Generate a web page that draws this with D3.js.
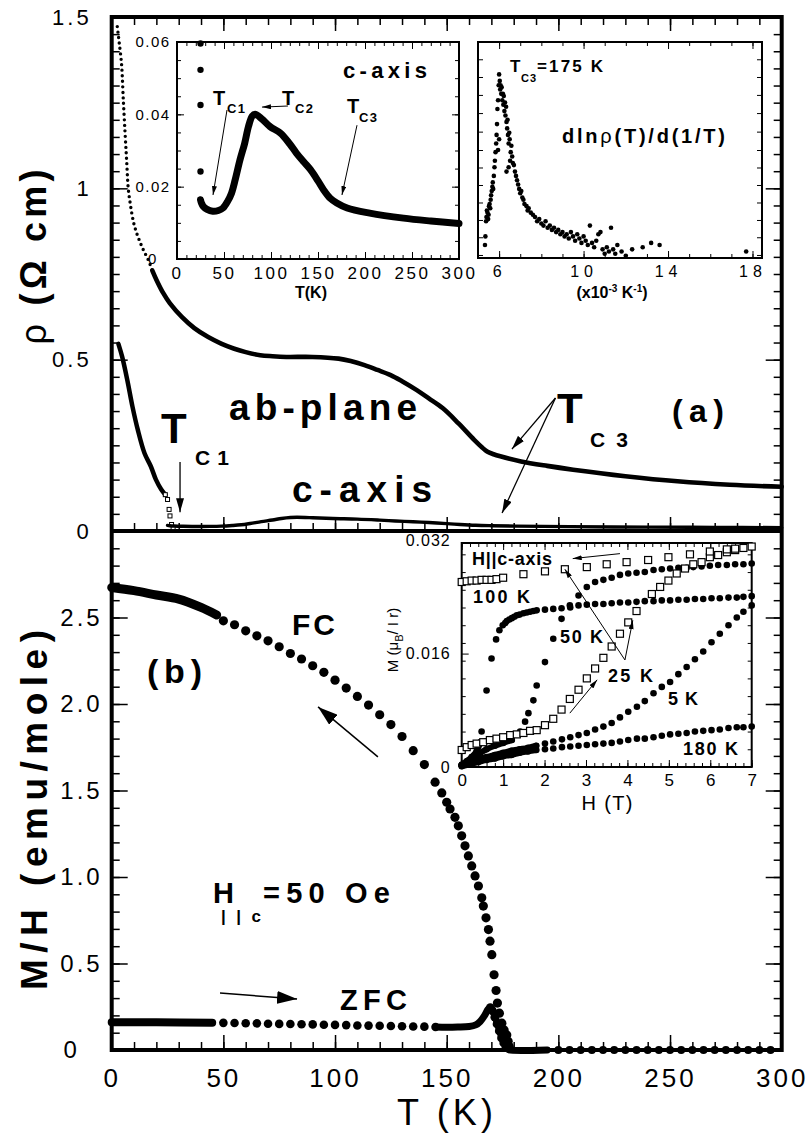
<!DOCTYPE html>
<html>
<head>
<meta charset="utf-8">
<script src="https://cdn.jsdelivr.net/npm/d3@7"></script>
<style>
body { margin: 0; background: #fff; }
svg text { font-family: "Liberation Sans", Arimo, Helvetica, Arial, sans-serif; fill: #000; }
</style>
</head>
<body>
<script>
var W = 810
var H = 1140

// ---------- panel (a): resistivity (T in K, rho in Ohm cm)
var abPlane = [[2.5,1.472],[3.0,1.445],[3.4,1.423],[4.0,1.39],[4.5,1.355],[5.2,1.258],[6.0,1.16],[6.7,1.08],[7.4,1.0],[8.2,0.96],[9.0,0.927],[10,0.895],[11.2,0.869],[12.7,0.843],[14.2,0.82],[16.4,0.791],[18.2,0.76],[20.1,0.732],[23.1,0.694],[26,0.665],[31.5,0.624],[37,0.592],[43.2,0.566],[49,0.547],[54.9,0.532],[60,0.522],[66.5,0.513],[72,0.51],[78.2,0.508],[89.9,0.508],[101.6,0.503],[107,0.496],[113.2,0.484],[119,0.47],[124.9,0.455],[130,0.437],[136.6,0.411],[142,0.387],[148.3,0.358],[155.3,0.314],[162.3,0.266],[166,0.243],[168.1,0.232],[171,0.224],[174,0.218],[183.3,0.203],[195,0.19],[206.6,0.179],[230,0.16],[253.3,0.145],[276.7,0.135],[300,0.129]]
var cAxisLow = [[3,0.546],[4.7,0.508],[7,0.44],[9.3,0.363],[11.7,0.295],[14.7,0.227],[17.5,0.189],[19.8,0.15],[22.2,0.121],[24,0.106],[25,0.092],[25.7,0.063],[26.1,0.044],[26.8,0.019],[27.5,0.01]]
var cAxis = [[25,0.0164],[26,0.0155],[28,0.0145],[32,0.0137],[38,0.0132],[44,0.0134],[49,0.0141],[54,0.016],[58,0.0182],[62,0.022],[67,0.0274],[72,0.032],[76,0.0366],[80,0.0395],[83,0.040],[90,0.0388],[99,0.0366],[110,0.0348],[120,0.0318],[127,0.0293],[135,0.0268],[142,0.0247],[150,0.0216],[156,0.0191],[163,0.0168],[170,0.0155],[181,0.0141],[205,0.0127],[241,0.0113],[270,0.0105],[300,0.0098]]
var cAxisEarly = [[25,0.0596],[25,0.0523],[25,0.0426],[25,0.0242]]

// inset: dln(rho)/d(1/T) against 1/T (10^-3 K^-1), arbitrary units
var dlnRho = [[5.33,0.06],[5.35,0.10],[5.38,0.17],[5.40,0.19],[5.42,0.22],[5.45,0.21],[5.48,0.18],[5.50,0.20],[5.52,0.24],[5.55,0.25],[5.58,0.23],[5.60,0.27],[5.62,0.29],[5.65,0.31],[5.68,0.33],[5.70,0.35],[5.72,0.32],[5.75,0.38],[5.78,0.42],[5.80,0.45],[5.83,0.49],[5.86,0.53],[5.88,0.57],[5.90,0.62],[5.92,0.69],[5.95,0.73],[5.98,0.80],[6.0,0.85],[6.03,0.82],[6.05,0.78],[6.07,0.80],[6.10,0.76],[6.12,0.79],[6.15,0.73],[6.18,0.76],[6.20,0.71],[6.22,0.75],[6.25,0.68],[6.28,0.72],[6.30,0.66],[6.33,0.70],[6.35,0.63],[6.38,0.60],[6.40,0.64],[6.42,0.57],[6.45,0.53],[6.48,0.58],[6.50,0.55],[6.55,0.49],[6.58,0.52],[6.62,0.47],[6.65,0.44],[6.70,0.43],[6.75,0.40],[6.80,0.38],[6.85,0.36],[6.90,0.34],[6.95,0.32],[7.0,0.30],[7.05,0.31],[7.1,0.28],[7.15,0.27],[7.2,0.25],[7.3,0.24],[7.35,0.22],[7.4,0.23],[7.5,0.21],[7.6,0.20],[7.7,0.19],[7.8,0.17],[7.9,0.18],[8.0,0.16],[8.1,0.15],[8.2,0.17],[8.3,0.14],[8.4,0.15],[8.5,0.13],[8.6,0.14],[8.7,0.12],[8.8,0.13],[8.9,0.11],[9.0,0.12],[9.1,0.10],[9.2,0.11],[9.3,0.09],[9.4,0.12],[9.5,0.10],[9.6,0.08],[9.7,0.11],[9.8,0.09],[9.9,0.07],[10.0,0.10],[10.1,0.08],[10.2,0.06],[10.3,0.15],[10.4,0.07],[10.5,0.05],[10.6,0.08],[10.7,0.11],[10.8,0.12],[10.9,0.04],[11.0,0.02],[11.1,0.05],[11.2,0.03],[11.3,0.14],[11.4,0.04],[11.5,0.02],[11.6,0.06],[11.8,0.03],[12.0,0.01],[12.3,0.04],[12.8,0.05],[13.2,0.07],[13.6,0.06],[17.7,0.03],[6.35,0.40],[6.45,0.42],[6.0,0.55],[5.95,0.50],[6.52,0.45]]

// ---------- panel (b): M/H (emu/mole) against T
var fcLine = [[0,2.673],[10,2.655],[20,2.63],[30,2.606],[40,2.558],[47,2.515]]
var fcDots = [[50,2.481],[55,2.458],[60,2.423],[65,2.394],[70,2.365],[75,2.331],[80,2.292],[85,2.26],[90,2.221],[95,2.183],[100,2.138],[105,2.092],[110,2.044],[115,1.994],[120,1.938],[125,1.881],[130,1.812],[135,1.73],[140,1.65],[144.8,1.548],[147.8,1.486],[150,1.432],[151.5,1.393],[153.7,1.345],[155.2,1.296],[156.7,1.238],[158.2,1.18],[159.7,1.122],[161.2,1.064],[162.7,1.006],[164.2,0.948],[165.7,0.88],[166.4,0.832],[167.6,0.764],[168.7,0.696],[169.4,0.629],[170.2,0.551],[171.2,0.435],[172.1,0.344],[172.7,0.271],[173.6,0.213],[174.7,0.155],[175.7,0.116],[176.9,0.087],[177.5,0.05],[178,0.02]]
var zfcLine = [[0,0.16],[20,0.16],[45,0.158]]
var zfcDots = [[50,0.157],[55,0.156],[60,0.155],[65,0.154],[70,0.152],[75,0.151],[80,0.15],[85,0.149],[90,0.148],[95,0.146],[100,0.145],[105,0.144],[110,0.142],[115,0.141],[120,0.14],[125,0.139],[130,0.137],[135,0.136],[140,0.135],[145,0.133]]
var zfcPeak = [[145,0.133],[150,0.132],[155,0.133],[160,0.136],[163,0.145],[165,0.165],[167,0.2],[168.5,0.235],[169.5,0.245],[170.5,0.235],[171.5,0.2],[172.5,0.16],[173.5,0.12],[174.5,0.08],[175.5,0.045],[176.5,0.02],[177.5,0.004],[178,0],[195,0]]
var zfcPeakDots = [[169.5,0.245],[170.5,0.225],[171.5,0.19],[172.5,0.15],[173.5,0.11],[174.5,0.07],[175.5,0.04],[176.5,0.015]]
var zfcZero = [[200,0],[205,0],[210,0],[215,0],[220,0],[225,0],[230,0],[235,0],[240,0],[245,0],[250,0],[255,0],[260,0],[265,0],[270,0],[275,0],[280,0],[285,0],[290,0],[295,0]]

// inset: M (muB/Ir) against H (T)
var m25down = [[0,0.0261],[0.12,0.0262],[0.24,0.0263],[0.36,0.0263],[0.48,0.0264],[0.6,0.0264],[0.72,0.0264],[0.84,0.0265],[1.0,0.0267],[1.49,0.0272],[2.01,0.0276],[2.49,0.0279],[3.02,0.0282],[3.5,0.0286],[3.98,0.0289],[4.5,0.0292],[4.99,0.0296],[5.51,0.03],[5.99,0.0304],[6.4,0.0307],[6.6,0.0308],[6.8,0.0309],[7.0,0.0311]]
var m25up = [[0,0.0024],[0.12,0.0028],[0.24,0.0031],[0.36,0.0033],[0.52,0.0035],[0.68,0.0038],[0.84,0.004],[1.0,0.0042],[1.17,0.0045],[1.33,0.0046],[1.49,0.0048],[1.65,0.0051],[1.81,0.0052],[2.01,0.0059],[2.21,0.0068],[2.41,0.0081],[2.61,0.0096],[2.82,0.0109],[3.02,0.0125],[3.22,0.0139],[3.42,0.0154],[3.62,0.017],[3.82,0.0188],[4.02,0.0204],[4.22,0.022],[4.59,0.0244],[4.79,0.0254],[4.99,0.0263],[5.19,0.0273],[5.39,0.028],[5.59,0.0286],[5.79,0.0289],[5.99,0.0296],[6.19,0.0299],[6.4,0.0303],[6.6,0.0306]]
var m100 = [[0,0.0002],[0.12,0.0008],[0.24,0.0014],[0.36,0.0022],[0.45,0.0035],[0.48,0.005],[0.6,0.0108],[0.72,0.0153],[0.83,0.018],[0.91,0.0193],[0.99,0.02],[1.05,0.0203],[1.09,0.0206],[1.15,0.0208],[1.21,0.021],[1.27,0.0212],[1.33,0.0214],[1.4,0.0215],[1.49,0.0217],[1.57,0.0218],[1.65,0.0219],[1.73,0.022],[1.81,0.0221],[2.01,0.0222],[2.21,0.0223],[2.41,0.0224],[2.62,0.0225],[2.82,0.0228],[3.02,0.0229],[3.22,0.023],[3.42,0.023],[3.62,0.0231],[3.82,0.0232],[4.02,0.0232],[4.22,0.0233],[4.42,0.0234],[4.63,0.0234],[4.83,0.0235],[5.03,0.0235],[5.23,0.0236],[5.43,0.0236],[5.63,0.0237],[5.83,0.0237],[6.03,0.0238],[6.23,0.0238],[6.44,0.0239],[6.64,0.0239],[6.8,0.024],[7.0,0.0241]]
var m50 = [[0,0.0003],[0.2,0.001],[0.4,0.0018],[0.6,0.0025],[0.8,0.003],[1.0,0.0034],[1.21,0.0038],[1.41,0.005],[1.53,0.0064],[1.61,0.0076],[1.73,0.0094],[1.81,0.0115],[2.01,0.0148],[2.21,0.0181],[2.41,0.0209],[2.61,0.0228],[2.82,0.0242],[3.02,0.0254],[3.22,0.0261],[3.42,0.0264],[3.62,0.0267],[3.82,0.0271],[4.02,0.0273],[4.22,0.0274],[4.42,0.0275],[4.63,0.0278],[4.83,0.0279],[5.03,0.028],[5.23,0.0281],[5.43,0.0281],[5.59,0.0282],[5.79,0.0283],[5.99,0.0284],[6.19,0.0285],[6.4,0.0285],[6.6,0.0286],[6.8,0.0286],[7.0,0.0287]]
var m5 = [[0,0.0003],[0.2,0.0007],[0.4,0.0011],[0.6,0.0014],[0.8,0.0017],[1.0,0.002],[1.2,0.0023],[1.4,0.0025],[1.6,0.0027],[1.8,0.003],[2.01,0.0033],[2.21,0.0036],[2.42,0.0039],[2.62,0.0042],[2.82,0.0045],[3.02,0.0048],[3.22,0.0053],[3.42,0.0057],[3.62,0.0062],[3.82,0.007],[4.02,0.0078],[4.23,0.0085],[4.42,0.0093],[4.63,0.0104],[4.83,0.0113],[5.03,0.012],[5.23,0.0131],[5.43,0.0141],[5.63,0.0152],[5.83,0.0163],[6.03,0.0176],[6.23,0.0188],[6.44,0.02],[6.64,0.0211],[6.8,0.0219],[7.0,0.0228]]
var m180 = [[0,0.0001],[0.2,0.0004],[0.4,0.0007],[0.6,0.001],[0.8,0.0012],[1.0,0.0015],[1.2,0.0017],[1.4,0.002],[1.6,0.0022],[1.8,0.0024],[2.01,0.0025],[2.21,0.0026],[2.42,0.0028],[2.62,0.0029],[2.82,0.003],[3.02,0.0031],[3.22,0.0032],[3.42,0.0033],[3.62,0.0034],[3.82,0.0036],[4.02,0.0038],[4.23,0.004],[4.42,0.004],[4.63,0.0042],[4.83,0.0044],[5.03,0.0046],[5.23,0.0047],[5.43,0.0048],[5.63,0.005],[5.83,0.0051],[6.03,0.0052],[6.23,0.0053],[6.44,0.0055],[6.64,0.0056],[6.8,0.0056],[7.0,0.0057]]

// ---------- tick labels
var tLabels = [0, 50, 100, 150, 200, 250, 300]
var rhoLabels = [0, 0.5, 1, 1.5]
var mhLabels = [0, 0.5, 1.0, 1.5, 2.0, 2.5]
var inset1YLabels = [0, 0.02, 0.04, 0.06]
var inset2XLabels = [6, 10, 14, 18]
var inset2YTicks = [0.014, 0.096, 0.176, 0.257, 0.338, 0.419, 0.5, 0.585, 0.671, 0.755, 0.838, 0.92]
var inset3XLabels = [0, 1, 2, 3, 4, 5, 6, 7]
var inset3YLabels = [0, 0.016, 0.032]

// ---------- scales
var x = d3.scaleLinear().domain([0, 300]).range([111.7, 781.7])
var yA = d3.scaleLinear().domain([0, 1.5]).range([531, 17])
var yB = d3.scaleLinear().domain([0, 3]).range([1050, 531])
var x1 = d3.scaleLinear().domain([0, 300]).range([177, 459])
var y1 = d3.scaleLinear().domain([0, 0.06]).range([259, 42])
var x2 = d3.scaleLinear().domain([5, 18.45]).range([478, 762])
var y2 = d3.scaleLinear().domain([0, 1]).range([258, 42])
var x3 = d3.scaleLinear().domain([0, 7]).range([461.7, 751.7])
var y3 = d3.scaleLinear().domain([0, 0.0316]).range([767, 543])

var svg = d3.select("body").append("svg")
    .attr("width", W)
    .attr("height", H)

svg.append("rect").attr("width", W).attr("height", H).attr("fill", "#fff")

var defs = svg.append("defs")
function marker(id, len, wid) {
    defs.append("marker")
        .attr("id", id)
        .attr("viewBox", "0 0 " + len + " " + wid)
        .attr("refX", len).attr("refY", wid / 2)
        .attr("markerWidth", len).attr("markerHeight", wid)
        .attr("markerUnits", "userSpaceOnUse")
        .attr("orient", "auto")
        .append("path")
        .attr("d", "M0,0L" + len + "," + (wid / 2) + "L0," + wid + "Z")
}
marker("head", 14, 8)
marker("headBig", 20, 13)
marker("headSmall", 9, 5)

function arrow(xa, ya, xb, yb, head, w) {
    svg.append("line")
        .attr("x1", xa).attr("y1", ya).attr("x2", xb).attr("y2", yb)
        .attr("stroke", "#000").attr("stroke-width", w)
        .attr("marker-end", "url(#" + head + ")")
}

function txt(px, py, s, size, opts) {
    opts = opts || {}
    var t = svg.append("text")
        .attr("x", px).attr("y", py)
        .style("font-size", size + "px")
        .style("font-weight", opts.bold ? "bold" : "normal")
        .attr("text-anchor", opts.anchor || "start")
        .text(s)
    if (opts.len) t.attr("textLength", opts.len).attr("lengthAdjust", opts.adjust || "spacing")
    if (opts.spacing) t.style("letter-spacing", opts.spacing + "px")
    if (opts.rotate) t.attr("transform", "rotate(" + opts.rotate + "," + px + "," + py + ")")
    return t
}

function ticks(axis, scale, values, size, tx, ty, sw) {
    var g = svg.append("g")
        .attr("transform", "translate(" + tx + "," + ty + ")")
        .call(axis(scale).tickValues(values).tickSize(size).tickFormat(""))
    g.select(".domain").remove()
    g.selectAll("line").attr("stroke-width", sw)
    return g
}

function labels(axis, scale, values, fmt, tx, ty, pad, size, spacing) {
    var g = svg.append("g")
        .attr("transform", "translate(" + tx + "," + ty + ")")
        .call(axis(scale).tickValues(values).tickSize(0).tickPadding(pad).tickFormat(fmt))
    g.select(".domain").remove()
    g.selectAll("text")
        .style("font-size", size + "px")
        .style("letter-spacing", spacing + "px")
    return g
}

function curve(data, xs, ys, w, dash) {
    var p = svg.append("path")
        .datum(data)
        .attr("fill", "none")
        .attr("stroke", "#000")
        .attr("stroke-width", w)
        .attr("stroke-linecap", "round")
        .attr("stroke-linejoin", "round")
        .attr("d", d3.line().x(function(d) { return xs(d[0]) }).y(function(d) { return ys(d[1]) }).curve(d3.curveCatmullRom))
    if (dash) p.attr("stroke-dasharray", dash)
    return p
}

function dots(data, xs, ys, r) {
    svg.append("g").selectAll("circle")
        .data(data)
        .enter()
        .append("circle")
        .attr("cx", function(d) { return xs(d[0]) })
        .attr("cy", function(d) { return ys(d[1]) })
        .attr("r", r)
        .attr("fill", "#000")
}

function squares(data, xs, ys, s, sw) {
    svg.append("g").selectAll("rect")
        .data(data)
        .enter()
        .append("rect")
        .attr("x", function(d) { return xs(d[0]) - s / 2 })
        .attr("y", function(d) { return ys(d[1]) - s / 2 })
        .attr("width", s).attr("height", s)
        .attr("fill", "#fff")
        .attr("stroke", "#000")
        .attr("stroke-width", sw)
}

var step = function(a, b, s) { return d3.range(a, b + s / 2, s) }

// ================= main frame
svg.append("rect")
    .attr("x", x(0)).attr("y", yA(1.5))
    .attr("width", x(300) - x(0)).attr("height", yB(0) - yA(1.5))
    .attr("fill", "none").attr("stroke", "#000").attr("stroke-width", 4)
svg.append("line")
    .attr("x1", x(0)).attr("x2", x(300)).attr("y1", yA(0)).attr("y2", yA(0))
    .attr("stroke", "#000").attr("stroke-width", 4)

// panel (a) ticks
ticks(d3.axisRight, yA, step(0, 1.5, 0.05), 8, x(0), 0, 1.5)
ticks(d3.axisRight, yA, step(0, 1.5, 0.5), 16, x(0), 0, 1.5)
ticks(d3.axisLeft, yA, step(0, 1.5, 0.05), 8, x(300), 0, 1.5)
ticks(d3.axisLeft, yA, step(0, 1.5, 0.5), 16, x(300), 0, 1.5)
ticks(d3.axisBottom, x, step(0, 300, 10), 8, 0, yA(1.5), 1.5)
ticks(d3.axisBottom, x, step(0, 300, 50), 14, 0, yA(1.5), 1.5)
ticks(d3.axisTop, x, step(0, 300, 10), 8, 0, yA(0), 1.5)
ticks(d3.axisTop, x, step(0, 300, 50), 14, 0, yA(0), 1.5)
// panel (b) ticks
ticks(d3.axisRight, yB, step(0, 3, 0.1), 8, x(0), 0, 1.5)
ticks(d3.axisRight, yB, step(0, 3, 0.5), 16, x(0), 0, 1.5)
ticks(d3.axisLeft, yB, step(0, 3, 0.1), 8, x(300), 0, 1.5)
ticks(d3.axisLeft, yB, step(0, 3, 0.5), 16, x(300), 0, 1.5)
ticks(d3.axisTop, x, step(0, 300, 10), 8, 0, yB(0), 1.5)
ticks(d3.axisTop, x, step(0, 300, 50), 15, 0, yB(0), 1.5)

// axis labels
labels(d3.axisLeft, yA, rhoLabels, function(d) { return d === 0 ? "0" : String(d) }, x(0), 0, 20, 22, 3)
var lb = labels(d3.axisLeft, yB, mhLabels, function(d) { return d === 0 ? "0" : d3.format(".1f")(d) }, x(0), 0, 9, 24, 3)
lb.selectAll("text").filter(function(d) { return d === 0 }).attr("text-anchor", "middle").attr("x", -40)
var lx = labels(d3.axisBottom, x, tLabels, d3.format("d"), 0, yB(0), 0, 26, 3)
lx.selectAll("text").attr("dy", null).attr("y", 37)

txt(445, 1125, "T (K)", 36, { anchor: "middle", len: 96 })
var rt = txt(46, 257, "", 36, { bold: true, anchor: "middle", rotate: -90, len: 175 })
rt.append("tspan").style("font-weight", "normal").text("ρ ")
rt.append("tspan").text("(Ω cm)")
txt(47, 810, "M/H  (emu/mole)", 37, { bold: true, anchor: "middle", rotate: -90, len: 360 })

// ================= panel (a) data
curve(abPlane.filter(function(d) { return d[0] <= 24 }), x, yA, 3.4, "0 5.5")
curve(abPlane.filter(function(d) { return d[0] >= 18 }), x, yA, 4.6)
curve(cAxisLow.filter(function(d) { return d[0] <= 24 }), x, yA, 4.5)
squares(cAxisLow.filter(function(d) { return d[0] >= 24 }), x, yA, 4, 1)
curve(cAxis, x, yA, 3.4)

txt(229, 420, "ab-plane", 37, { bold: true, len: 188 })
txt(292, 502, "c-axis", 37, { bold: true, len: 140 })
txt(161, 443, "T", 42, { bold: true, len: 32 })
txt(195, 465, "C 1", 21, { bold: true, len: 34 })
arrow(x(30.6), yA(0.201), x(30.6), yA(0.055), "head", 1.3)
txt(557, 423, "T", 42, { bold: true, len: 32 })
txt(590, 447, "C 3", 21, { bold: true, len: 38 })
arrow(x(198.7), yA(0.388), x(179.2), yA(0.239), "head", 1.3)
arrow(x(198.7), yA(0.388), x(174.8), yA(0.0525), "head", 1.3)
txt(672, 422, "(a)", 32, { bold: true, len: 52 })

// ================= inset 1: c-axis rho(T)
svg.append("rect")
    .attr("x", x1(0)).attr("y", y1(0.06))
    .attr("width", x1(300) - x1(0)).attr("height", y1(0) - y1(0.06))
    .attr("fill", "#fff").attr("stroke", "#000").attr("stroke-width", 2)
ticks(d3.axisTop, x1, step(0, 300, 10), 4, 0, y1(0), 1)
ticks(d3.axisTop, x1, step(0, 300, 50), 7, 0, y1(0), 1)
ticks(d3.axisBottom, x1, step(0, 300, 10), 4, 0, y1(0.06), 1)
ticks(d3.axisBottom, x1, step(0, 300, 50), 7, 0, y1(0.06), 1)
ticks(d3.axisRight, y1, step(0, 0.06, 0.005), 4, x1(0), 0, 1)
ticks(d3.axisRight, y1, step(0, 0.06, 0.02), 7, x1(0), 0, 1)
ticks(d3.axisLeft, y1, step(0, 0.06, 0.005), 4, x1(300), 0, 1)
ticks(d3.axisLeft, y1, step(0, 0.06, 0.02), 7, x1(300), 0, 1)
var l1 = labels(d3.axisLeft, y1, inset1YLabels, function(d) { return d === 0 ? "0" : d3.format(".2f")(d) }, x1(0), 0, 0, 15, 1.5)
l1.selectAll("text").attr("text-anchor", "middle").attr("x", -24)
var l1x = labels(d3.axisBottom, x1, tLabels, d3.format("d"), 0, y1(0), 0, 17, 2.5)
l1x.selectAll("text").attr("dy", null).attr("y", 20)
txt(311, 298, "T(K)", 16, { bold: true, anchor: "middle" })

curve(cAxis, x1, y1, 7)
dots(cAxisEarly, x1, y1, 3.2)
txt(343, 78, "c-axis", 22, { bold: true, len: 84 })
txt(213, 105, "T", 20, { bold: true })
txt(227, 113, "C1", 13, { bold: true, len: 18 })
txt(282, 105, "T", 20, { bold: true })
txt(295, 113, "C2", 13, { bold: true, len: 18 })
txt(347, 113, "T", 20, { bold: true })
txt(359, 122, "C3", 13, { bold: true, len: 18 })
arrow(x1(53.2), y1(0.0412), x1(38.3), y1(0.0177), "headSmall", 1)
arrow(x1(118), y1(0.0423), x1(90.4), y1(0.042), "headSmall", 1)
arrow(x1(191.5), y1(0.037), x1(175.5), y1(0.0177), "headSmall", 1)

// ================= inset 2: dln rho / d(1/T)
svg.append("rect")
    .attr("x", x2(5)).attr("y", y2(1))
    .attr("width", x2(18.45) - x2(5)).attr("height", y2(0) - y2(1))
    .attr("fill", "#fff").attr("stroke", "#000").attr("stroke-width", 2)
ticks(d3.axisTop, x2, step(5, 18, 1), 4, 0, y2(0), 1)
ticks(d3.axisTop, x2, inset2XLabels, 7, 0, y2(0), 1)
ticks(d3.axisBottom, x2, step(5, 18, 1), 4, 0, y2(1), 1)
ticks(d3.axisBottom, x2, inset2XLabels, 7, 0, y2(1), 1)
ticks(d3.axisRight, y2, inset2YTicks, 5, x2(5), 0, 1)
ticks(d3.axisLeft, y2, inset2YTicks, 5, x2(18.45), 0, 1)
var l2x = labels(d3.axisBottom, x2, inset2XLabels, d3.format("d"), 0, y2(0), 0, 16, 5)
l2x.selectAll("text").attr("dy", null).attr("y", 19)
var xl = txt(612, 298, "", 16, { bold: true, anchor: "middle" })
xl.append("tspan").text("(x10")
xl.append("tspan").attr("dy", -6).style("font-size", "10px").text("-3")
xl.append("tspan").attr("dy", 6).text(" K")
xl.append("tspan").attr("dy", -6).style("font-size", "10px").text("-1")
xl.append("tspan").attr("dy", 6).text(")")

dots(dlnRho, x2, y2, 2.3)
txt(510, 72, "T", 17, { bold: true })
txt(521, 82, "C3", 11, { bold: true, len: 15 })
txt(537, 72, "=175  K", 17, { bold: true, len: 66 })
var dl = txt(562, 143, "", 20, { bold: true, len: 163 })
dl.append("tspan").text("dln")
dl.append("tspan").style("font-weight", "normal").text("ρ")
dl.append("tspan").text("(T)/d(1/T)")

// ================= panel (b) data
curve(fcLine, x, yB, 9)
dots(fcDots, x, yB, 4.6)
curve(zfcLine, x, yB, 8)
dots(zfcDots, x, yB, 4.3)
curve(zfcPeak, x, yB, 7)
dots(zfcPeakDots, x, yB, 4.3)
dots(zfcZero, x, yB, 4)

txt(147, 683, "(b)", 34, { bold: true, len: 55 })
txt(292, 635, "FC", 30, { bold: true, len: 43 })
arrow(x(119.2), yB(1.694), x(92.4), yB(1.983), "headBig", 1.5)
txt(213, 903, "H", 29, { bold: true, len: 21 })
txt(221, 922, "||c", 17, { bold: true, len: 40 })
txt(263, 903, "=50  Oe", 29, { bold: true, len: 127 })
txt(340, 1010, "ZFC", 29, { bold: true, len: 67 })
arrow(x(48.5), yB(0.329), x(83), yB(0.295), "headBig", 1.5)

// ================= inset 3: M(H)
svg.append("rect")
    .attr("x", x3(0)).attr("y", y3(0.0316))
    .attr("width", x3(7) - x3(0)).attr("height", y3(0) - y3(0.0316))
    .attr("fill", "#fff").attr("stroke", "#000").attr("stroke-width", 2)
ticks(d3.axisTop, x3, step(0, 7, 0.2), 4, 0, y3(0), 1)
ticks(d3.axisTop, x3, step(0, 7, 1), 7, 0, y3(0), 1)
ticks(d3.axisBottom, x3, step(0, 7, 0.2), 4, 0, y3(0.0316), 1)
ticks(d3.axisBottom, x3, step(0, 7, 1), 7, 0, y3(0.0316), 1)
ticks(d3.axisRight, y3, step(0, 0.03, 0.0025), 4, x3(0), 0, 1)
ticks(d3.axisRight, y3, [0.016], 7, x3(0), 0, 1)
ticks(d3.axisLeft, y3, step(0, 0.03, 0.0025), 4, x3(7), 0, 1)
labels(d3.axisLeft, y3, inset3YLabels, function(d) { return d === 0 ? "0" : d3.format(".3f")(d) }, x3(0), 0, 11, 16, 1)
var l3x = labels(d3.axisBottom, x3, inset3XLabels, d3.format("d"), 0, y3(0), 0, 17, 0)
l3x.selectAll("text").attr("dy", null).attr("y", 19)
txt(607, 810, "H  (T)", 20, { anchor: "middle", len: 51 })
var my = txt(398, 640, "", 15, { anchor: "middle", rotate: -90 })
my.append("tspan").text("M (μ")
my.append("tspan").attr("dy", 5).style("font-size", "11px").text("B")
my.append("tspan").attr("dy", -5).text("/ I r)")

curve(m180.filter(function(d) { return d[0] <= 1.85 }), x3, y3, 6)
curve(m5.filter(function(d) { return d[0] <= 1.85 }), x3, y3, 6)
curve(m50.filter(function(d) { return d[0] <= 1.21 }), x3, y3, 6)
curve(m100.filter(function(d) { return d[0] <= 0.45 }), x3, y3, 6)
curve(m25up.filter(function(d) { return d[0] <= 1.85 }), x3, y3, 6)
dots(m180, x3, y3, 3.3)
dots(m5, x3, y3, 3.3)
dots(m50, x3, y3, 3.3)
dots(m100, x3, y3, 3.3)
squares(m25up, x3, y3, 7, 1.2)
squares(m25down, x3, y3, 7, 1.2)

txt(472, 565, "H||c-axis", 18, { bold: true, len: 80 })
txt(473, 603, "100  K", 18, { bold: true, len: 57 })
txt(560, 643, "50  K", 18, { bold: true, len: 43 })
txt(608, 682, "25  K", 18, { bold: true, len: 45 })
txt(668, 705, "5  K", 18, { bold: true, len: 30 })
txt(683, 755, "180  K", 18, { bold: true, len: 55 })
arrow(x3(3.82), y3(0.0301), x3(2.68), y3(0.0294), "headSmall", 1)
arrow(x3(3.94), y3(0.0151), x3(2.49), y3(0.0279), "headSmall", 1)
arrow(x3(3.94), y3(0.0151), x3(4.13), y3(0.0207), "headSmall", 1)
arrow(x3(2.61), y3(0.0076), x3(3.27), y3(0.0123), "headSmall", 1)
</script>
</body>
</html>
